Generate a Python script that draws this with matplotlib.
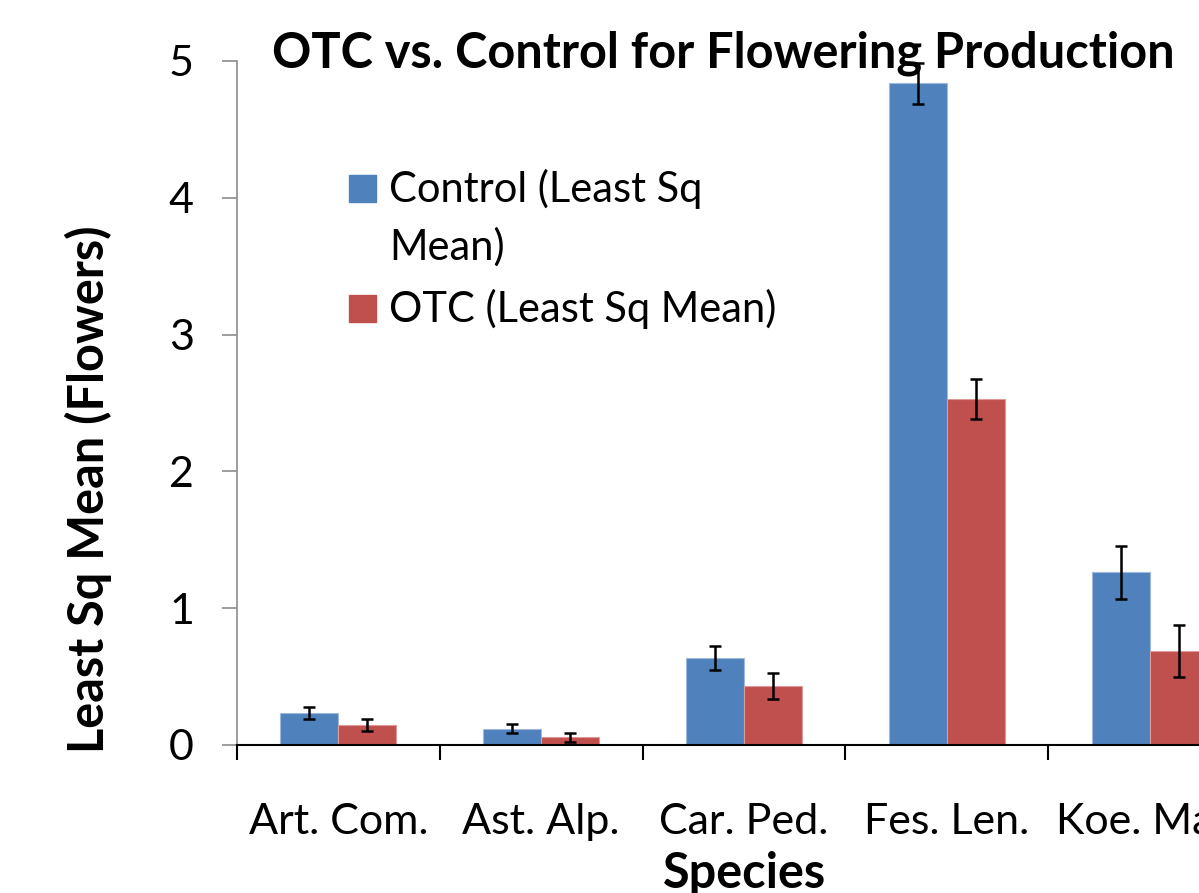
import matplotlib
matplotlib.use("Agg")
import matplotlib.pyplot as plt
from matplotlib.patches import Rectangle
import numpy as np

# ---- data -----------------------------------------------------------------
species = ["Art. Com.", "Ast. Alp.", "Car. Ped.", "Fes. Len.", "Koe. Mac."]
control = [0.234, 0.120, 0.636, 4.837, 1.262]
control_err = [0.044, 0.033, 0.088, 0.148, 0.193]
otc = [0.146, 0.056, 0.430, 2.530, 0.687]
otc_err = [0.044, 0.034, 0.095, 0.149, 0.190]

BLUE = "#4F81BD"
RED = "#C0504D"
FONT = "Lato"

plt.rcParams["font.family"] = [FONT, "DejaVu Sans"]

W, H = 1199, 893
fig = plt.figure(figsize=(W / 100, H / 100), dpi=100)


def fx(px):
    return px / W


def fy(py):
    return 1 - py / H


# axes runs past the right edge of the figure, as in the reference crop
left, right = 237, 1251
bottom, top = 745, 61
ax = fig.add_axes([fx(left), fy(bottom), (right - left) / W, (bottom - top) / H])

x = np.arange(len(species))
bw = 0.286
err_kw = dict(ecolor="black", elinewidth=1.8, capsize=4.6, capthick=1.8)
ax.bar(x - bw / 2, control, bw, yerr=control_err, color=BLUE,
       edgecolor="#9db8dc", linewidth=0.8, error_kw=err_kw)
ax.bar(x + bw / 2, otc, bw, yerr=otc_err, color=RED,
       edgecolor="#dc9a98", linewidth=0.8, error_kw=err_kw)

ax.set_xlim(-0.5, len(species) - 0.5)
ax.set_ylim(0, 5)
ax.set_yticks(range(6))
ax.set_xticks(x)
ax.set_xticklabels(species)
ax.set_xticks(np.arange(-0.5, len(species), 1), minor=True)

for s in ("top", "right"):
    ax.spines[s].set_visible(False)
ax.spines["left"].set_color("#8c8c8c")
ax.spines["left"].set_linewidth(1.2)
ax.spines["bottom"].set_color("black")
ax.spines["bottom"].set_linewidth(1.5)

ax.tick_params(axis="y", length=11, width=1.2, color="#8c8c8c",
               labelsize=31, pad=20)
ax.tick_params(axis="x", which="major", length=0, labelsize=31, pad=42)
ax.tick_params(axis="x", which="minor", length=11, width=1.5, color="black")

# axis titles and chart title
fig.text(fx(744), fy(888), "Species", ha="center", va="baseline",
         fontsize=35, fontweight="bold")
fig.text(fx(88), fy(489), "Least Sq Mean (Flowers)", rotation=90,
         ha="center", va="center", fontsize=35, fontweight="bold")
fig.text(fx(723), fy(68), "OTC vs. Control for Flowering Production",
         ha="center", va="baseline", fontsize=35, fontweight="bold")

# legend, laid out like the spreadsheet one
legend_rows = [
    (BLUE, ["Control (Least Sq", "Mean)"], 175),
    (RED, ["OTC (Least Sq Mean)"], 295),
]
for color, lines, ytop in legend_rows:
    fig.patches.append(Rectangle((fx(349), fy(ytop + 27)), 27 / W, 27 / H,
                                 transform=fig.transFigure, color=color))
    for i, line in enumerate(lines):
        fig.text(fx(389), fy(ytop + 27 + 58 * i), line, ha="left",
                 va="baseline", fontsize=30)

fig.savefig("out.png", dpi=100)
